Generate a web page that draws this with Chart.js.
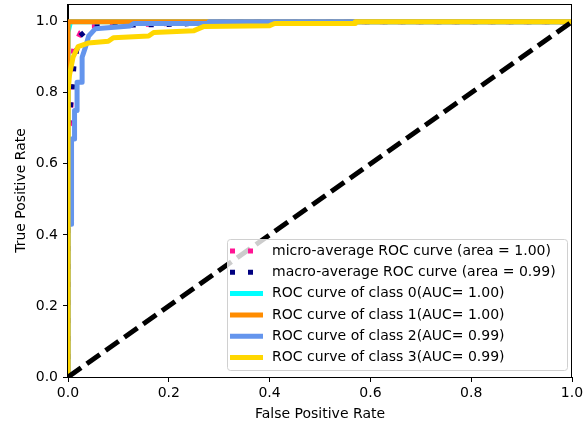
<!DOCTYPE html>
<html>
<head>
<meta charset="utf-8">
<script src="https://cdn.jsdelivr.net/npm/chart.js@4.4.0/dist/chart.umd.min.js"></script>
<style>
  body { margin: 0; background: #fff; }
  #wrap { width: 586px; height: 428px; }
</style>
</head>
<body>
<div id="wrap"><canvas id="roc" width="586" height="428"></canvas></div>
<script>
// tick labels
const xTicks = [0, 0.2, 0.4, 0.6, 0.8, 1.0];
const yTicks = [0, 0.2, 0.4, 0.6, 0.8, 1.0];

// curves (fpr / tpr)
const microFpr = [0, 0, 0.006, 0.006, 0.012, 0.018, 0.025, 0.045, 0.1, 0.2, 0.3, 1];
const microTpr = [0, 0.7, 0.72, 0.87, 0.93, 0.95, 0.97, 0.988, 0.99, 0.995, 1, 1];

const macroFpr = [0, 0, 0.008, 0.012, 0.02, 0.024, 0.044, 0.1, 0.22, 0.3, 1];
const macroTpr = [0, 0.7, 0.8, 0.88, 0.94, 0.96, 0.985, 0.99, 0.993, 1, 1];

const class0Fpr = [0, 0, 0.005, 1];
const class0Tpr = [0, 0.97, 1, 1];

const class1Fpr = [0, 0, 1];
const class1Tpr = [0, 1, 1];

const class2Fpr = [0, 0, 0.007, 0.007, 0.013, 0.013, 0.018, 0.018, 0.028, 0.028, 0.035, 0.041, 0.054, 0.123, 0.13, 0.28, 0.28, 1];
const class2Tpr = [0, 0.43, 0.43, 0.67, 0.67, 0.75, 0.75, 0.83, 0.83, 0.9, 0.93, 0.96, 0.98, 0.988, 0.995, 0.995, 1, 1];

const class3Fpr = [0, 0, 0.003, 0.01, 0.02, 0.04, 0.08, 0.09, 0.16, 0.17, 0.25, 0.27, 0.4, 0.41, 0.57, 0.57, 1];
const class3Tpr = [0, 0.8, 0.85, 0.9, 0.93, 0.94, 0.945, 0.955, 0.96, 0.97, 0.975, 0.987, 0.989, 0.995, 0.995, 1, 1];

const chanceFpr = [0, 1];
const chanceTpr = [0, 1];

const labels = [
  'micro-average ROC curve (area = 1.00)',
  'macro-average ROC curve (area = 0.99)',
  'ROC curve of class 0(AUC= 1.00)',
  'ROC curve of class 1(AUC= 1.00)',
  'ROC curve of class 2(AUC= 0.99)',
  'ROC curve of class 3(AUC= 0.99)'
];

function pts(xs, ys) {
  return xs.map((x, i) => ({ x: x, y: ys[i] }));
}

function curve(label, xs, ys, color, order, dash) {
  return {
    label: label,
    data: pts(xs, ys),
    borderColor: color,
    borderWidth: 5,
    borderDash: dash || [],
    borderJoinStyle: 'round',
    showLine: true,
    pointRadius: 0,
    tension: 0,
    order: order
  };
}

const FONT = 'DejaVu Sans';

// top/right spines + legend box
const framePlugin = {
  id: 'frame',
  afterDatasetsDraw(chart) {
    const a = chart.chartArea;
    const ctx = chart.ctx;
    ctx.save();
    ctx.strokeStyle = '#000';
    ctx.lineWidth = 1;
    ctx.setLineDash([]);
    ctx.strokeRect(Math.round(a.left) - 0.5, Math.round(a.top) + 0.5, Math.round(a.right - a.left), Math.round(a.bottom - a.top));
    ctx.restore();
  },
  afterDraw(chart) {
    const ctx = chart.ctx;
    const bx = 227.5, by = 239.5, bw = 340, bh = 131, r = 3;
    ctx.save();
    ctx.beginPath();
    ctx.moveTo(bx + r, by);
    ctx.lineTo(bx + bw - r, by);
    ctx.arcTo(bx + bw, by, bx + bw, by + r, r);
    ctx.lineTo(bx + bw, by + bh - r);
    ctx.arcTo(bx + bw, by + bh, bx + bw - r, by + bh, r);
    ctx.lineTo(bx + r, by + bh);
    ctx.arcTo(bx, by + bh, bx, by + bh - r, r);
    ctx.lineTo(bx, by + r);
    ctx.arcTo(bx, by, bx + r, by, r);
    ctx.closePath();
    ctx.fillStyle = 'rgba(255,255,255,0.8)';
    ctx.fill();
    ctx.strokeStyle = '#d0d0d0';
    ctx.lineWidth = 1;
    ctx.stroke();

    ctx.font = '14px "' + FONT + '"';
    ctx.textBaseline = 'middle';
    ctx.fillStyle = '#000';
    labels.forEach((lab, i) => {
      const ds = chart.data.datasets[i];
      const y = 251 + i * 21.3;
      ctx.setLineDash(ds.borderDash);
      ctx.strokeStyle = ds.borderColor;
      ctx.lineWidth = 5;
      ctx.beginPath();
      ctx.moveTo(230, y);
      ctx.lineTo(263, y);
      ctx.stroke();
      ctx.setLineDash([]);
      ctx.fillText(lab, 272, y);
    });
    ctx.restore();
  }
};

const ctx = document.getElementById('roc').getContext('2d');
new Chart(ctx, {
  type: 'scatter',
  data: {
    datasets: [
      curve(labels[0], microFpr, microTpr, '#ff1493', 6, [5, 13]),
      curve(labels[1], macroFpr, macroTpr, '#000080', 5, [5, 13]),
      curve(labels[2], class0Fpr, class0Tpr, '#00ffff', 4),
      curve(labels[3], class1Fpr, class1Tpr, '#ff8c00', 3),
      curve(labels[4], class2Fpr, class2Tpr, '#6495ed', 2),
      curve(labels[5], class3Fpr, class3Tpr, '#ffd700', 1),
      curve('chance', chanceFpr, chanceTpr, '#000000', 0, [16, 7])
    ]
  },
  options: {
    responsive: false,
    animation: false,
    layout: { padding: { left: 0, top: 4, right: 14, bottom: 0 } },
    plugins: { legend: { display: false }, tooltip: { enabled: false } },
    scales: {
      x: {
        type: 'linear',
        min: 0, max: 1,
        afterBuildTicks: s => { s.ticks = xTicks.map(v => ({ value: v })); },
        afterFit: s => { s.height = 51; s.paddingLeft = 0; s.paddingRight = 0; },
        grid: { drawOnChartArea: false, tickLength: 5, color: '#000' },
        border: { color: '#000' },
        ticks: { color: '#000', padding: 3, font: { family: FONT, size: 14 }, callback: v => v.toFixed(1), maxRotation: 0 },
        title: { display: true, text: 'False Positive Rate', color: '#000', font: { family: FONT, size: 14 }, padding: { top: 0, bottom: 5 } }
      },
      y: {
        type: 'linear',
        min: 0, max: 1.05,
        afterBuildTicks: s => { s.ticks = yTicks.map(v => ({ value: v })); },
        afterFit: s => { s.width = 68; s.paddingTop = 0; s.paddingBottom = 0; },
        grid: { drawOnChartArea: false, tickLength: 5, color: '#000' },
        border: { color: '#000' },
        ticks: { color: '#000', padding: 5, font: { family: FONT, size: 14 }, callback: v => v.toFixed(1) },
        title: { display: true, text: 'True Positive Rate', color: '#000', font: { family: FONT, size: 14 }, padding: { top: 13, bottom: 0 } }
      }
    }
  },
  plugins: [framePlugin]
});
</script>
</body>
</html>
